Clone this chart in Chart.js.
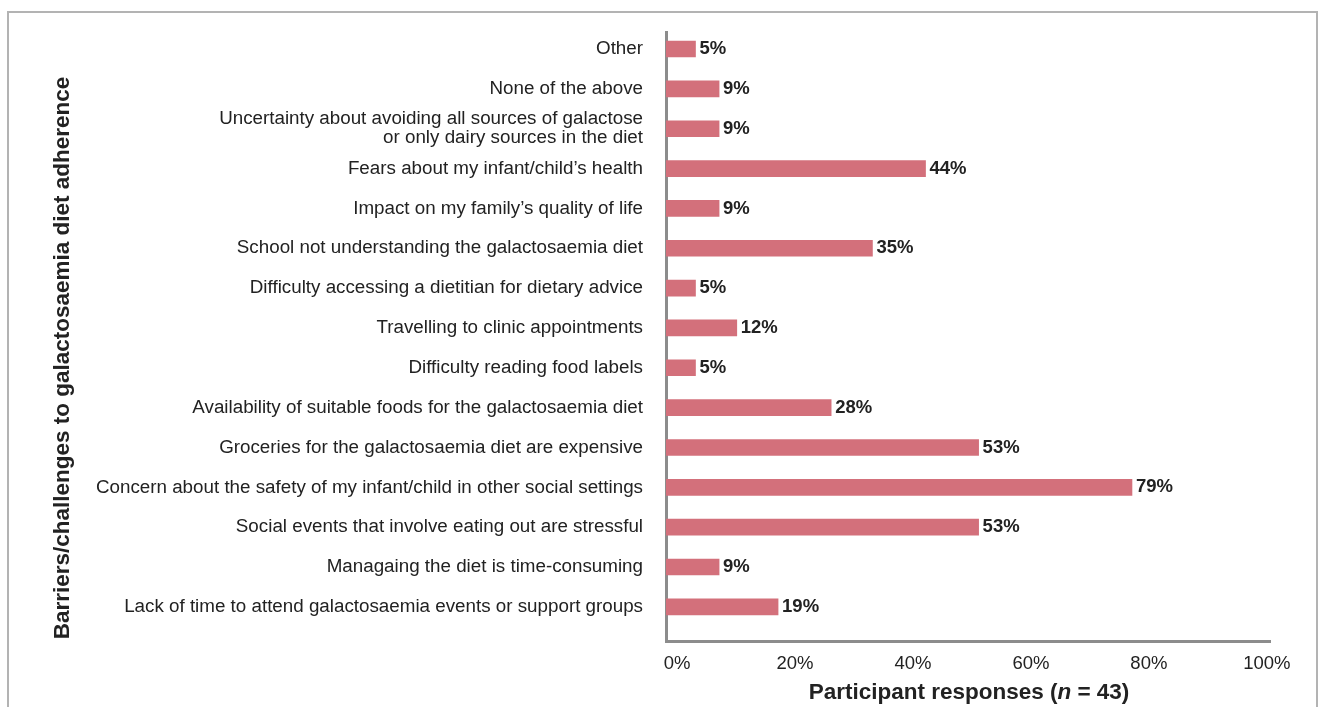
<!DOCTYPE html>
<html>
<head>
<meta charset="utf-8">
<script src="https://cdn.jsdelivr.net/npm/chart.js@4/dist/chart.umd.min.js"></script>
<style>
  html, body { margin: 0; padding: 0; background: #fff; overflow: hidden; }
  #frame { position: absolute; left: 7px; top: 11px; width: 1307px; height: 720px; border: 2px solid #b3b3b3; }
  #wrap { position: absolute; left: 0; top: 0; width: 1319px; height: 707px; }
</style>
</head>
<body>
<div id="frame"></div>
<div id="wrap"><canvas id="chart"></canvas></div>
<script>
// categories, listed top to bottom as in the picture
const categories = [
    "Other",
    "None of the above",
    ["Uncertainty about avoiding all sources of galactose", "or only dairy sources in the diet"],
    "Fears about my infant/child\u2019s health",
    "Impact on my family\u2019s quality of life",
    "School not understanding the galactosaemia diet",
    "Difficulty accessing a dietitian for dietary advice",
    "Travelling to clinic appointments",
    "Difficulty reading food labels",
    "Availability of suitable foods for the galactosaemia diet",
    "Groceries for the galactosaemia diet are expensive",
    "Concern about the safety of my infant/child in other social settings",
    "Social events that involve eating out are stressful",
    "Managaing the diet is time-consuming",
    "Lack of time to attend galactosaemia events or support groups"
];
const responses = [5, 9, 9, 44, 9, 35, 5, 12, 5, 28, 53, 79, 53, 9, 19];
const xTicks = [0, 20, 40, 60, 80, 100];

const yTitle = "Barriers/challenges to galactosaemia diet adherence";
const FONT = "'Liberation Sans', Arial, Helvetica, sans-serif";

// value labels at the end of each bar + axis titles
const labelPlugin = {
    id: 'labels',
    afterDatasetsDraw(chart) {
        const ctx = chart.ctx;
        const meta = chart.getDatasetMeta(0);
        ctx.save();
        ctx.font = "bold 18.5px " + FONT;
        ctx.fillStyle = "#222";
        ctx.textBaseline = "middle";
        ctx.textAlign = "left";
        meta.data.forEach((bar, i) => {
            ctx.fillText(responses[i] + "%", bar.x + 4, bar.y);
        });

        // y title
        ctx.font = "bold 22.5px " + FONT;
        ctx.textAlign = "center";
        ctx.translate(63, 358);
        ctx.rotate(-Math.PI / 2);
        ctx.fillText(yTitle, 0, 0);
        ctx.restore();

        // x title with italic n
        ctx.save();
        ctx.fillStyle = "#222";
        ctx.textBaseline = "middle";
        const parts = [
            ["Participant responses (", "bold"],
            ["n", "bold italic"],
            [" = 43)", "bold"]
        ];
        let total = 0;
        parts.forEach(p => {
            ctx.font = p[1] + " 22.5px " + FONT;
            total += ctx.measureText(p[0]).width;
        });
        let x = 969 - total / 2;
        ctx.textAlign = "left";
        parts.forEach(p => {
            ctx.font = p[1] + " 22.5px " + FONT;
            ctx.fillText(p[0], x, 693);
            x += ctx.measureText(p[0]).width;
        });
        ctx.restore();
    }
};

new Chart(document.getElementById('chart'), {
    type: 'bar',
    data: {
        labels: categories,
        datasets: [{
            data: responses,
            backgroundColor: '#d3707b',
            barThickness: 16
        }]
    },
    options: {
        indexAxis: 'y',
        responsive: true,
        maintainAspectRatio: false,
        animation: false,
        layout: { padding: { top: 31, right: 49, left: 0, bottom: 0 } },
        plugins: { legend: { display: false }, tooltip: { enabled: false } },
        scales: {
            x: {
                min: 0,
                max: 102.4,
                afterBuildTicks: (scale) => { scale.ticks = xTicks.map(v => ({ value: v })); },
                afterFit: (scale) => { scale.height = 66; },
                grid: { display: false, drawTicks: false },
                border: { color: '#8c8c8c', width: 3 },
                ticks: {
                    padding: 12,
                    labelOffset: 11,
                    color: '#222',
                    font: { family: FONT, size: 18.5 },
                    callback: (v) => v + '%'
                }
            },
            y: {
                afterFit: (scale) => { scale.width = 666; },
                // bars sit a little high in their bands in the original
                afterUpdate: (scale) => { scale._startValue = -0.413; scale._valueRange = 15.27; },
                grid: { display: false, drawTicks: false },
                border: { color: '#8c8c8c', width: 3 },
                ticks: {
                    padding: 23,
                    color: '#222',
                    autoSkip: false,
                    font: { family: FONT, size: 18.8, lineHeight: 1.02 }
                }
            }
        }
    },
    plugins: [labelPlugin]
});
</script>
</body>
</html>
